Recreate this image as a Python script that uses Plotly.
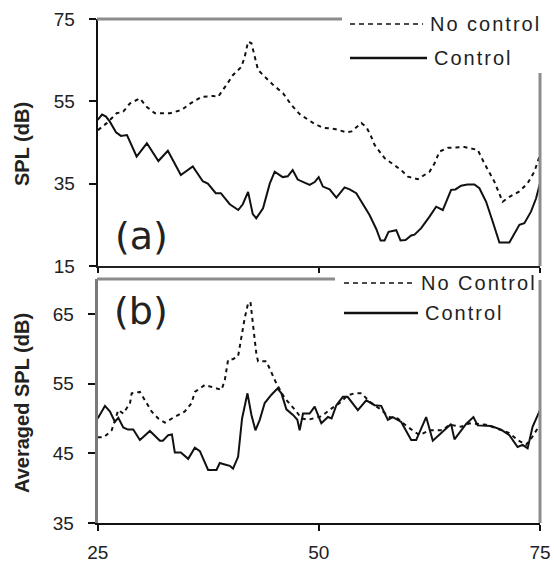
import plotly.graph_objects as go

# ---- (a) SPL versus frequency ----
freq_a_ctrl = [25.0, 25.49, 25.94, 26.39, 27.07, 27.63, 28.31, 29.40, 30.56, 31.86,
               32.93, 34.40, 35.75, 36.88, 37.45, 38.35, 38.92, 39.93, 40.89, 41.40,
               42.00, 42.53, 42.92, 43.69, 44.45, 45.01, 45.91, 46.48, 47.04, 47.61,
               48.96, 49.53, 49.98, 50.46, 51.22, 51.98, 52.91, 53.48, 54.23, 54.80,
               55.73, 56.49, 56.98, 57.43, 57.88, 58.75, 59.23, 59.80, 60.44, 60.81,
               61.57, 62.51, 63.26, 64.01, 64.95, 65.44, 66.08, 66.79, 67.58, 68.15,
               68.91, 69.65, 70.41, 71.54, 72.10, 72.67, 73.23, 73.98, 74.55, 75.0]
spl_a_ctrl = [50.5, 51.8, 51.3, 50.0, 47.5, 46.6, 46.8, 41.6, 44.8, 40.5,
              43.0, 37.1, 39.2, 35.6, 35.0, 32.7, 32.7, 30.0, 28.6, 30.0,
              33.0, 27.6, 26.6, 29.0, 35.0, 37.9, 36.6, 36.8, 38.3, 36.0,
              34.7, 35.4, 36.6, 34.3, 33.6, 31.6, 34.1, 33.6, 32.7, 30.6,
              27.4, 24.0, 21.2, 21.2, 23.3, 23.7, 21.2, 21.3, 22.4, 22.6,
              24.2, 27.0, 29.4, 28.6, 33.5, 33.6, 34.5, 34.8, 34.8, 33.9,
              30.6, 25.8, 20.7, 20.7, 22.9, 25.0, 25.4, 28.2, 31.4, 35.1]

freq_a_noctrl = [25.03, 26.02, 27.14, 27.89, 28.65, 29.77, 30.53, 31.47, 33.16, 34.48,
                 35.42, 36.74, 38.05, 38.61, 39.56, 40.30, 41.25, 41.62, 42.00, 42.38,
                 43.13, 44.07, 44.82, 45.95, 46.90, 47.83, 48.59, 49.53, 50.46, 51.78,
                 53.10, 53.70, 54.80, 55.36, 55.85, 56.30, 57.43, 58.55, 59.31, 60.06,
                 61.19, 62.51, 63.07, 63.64, 64.57, 66.46, 67.96, 68.72, 69.84, 70.78,
                 71.54, 72.67, 73.60, 74.36, 75.0]
spl_a_noctrl = [48.0, 49.7, 52.1, 52.5, 54.5, 55.7, 53.7, 52.1, 52.1, 52.9,
                54.4, 56.1, 56.3, 56.1, 59.0, 61.4, 63.4, 65.8, 69.5, 69.1,
                62.6, 60.7, 59.0, 57.0, 54.1, 51.9, 50.9, 49.5, 48.6, 48.3,
                47.5, 47.7, 49.7, 48.8, 46.8, 44.4, 41.2, 39.5, 38.3, 36.7,
                36.1, 37.9, 39.9, 42.8, 43.7, 43.9, 43.2, 39.9, 35.5, 30.6,
                31.8, 33.1, 35.1, 37.9, 42.0]

# ---- (b) averaged SPL versus frequency ----
freq_b_ctrl = [25.0, 25.82, 26.39, 26.95, 27.33, 27.89, 28.42, 29.02, 29.77, 30.90,
               32.03, 32.37, 32.97, 33.39, 33.72, 34.40, 35.23, 35.98, 36.55, 37.48,
               38.43, 38.80, 39.37, 39.93, 40.30, 40.87, 41.32, 41.93, 42.38, 42.83,
               43.32, 43.88, 44.64, 45.32, 45.77, 46.33, 47.08, 47.57, 47.83, 48.21,
               48.96, 49.53, 50.28, 51.03, 51.44, 51.98, 52.72, 53.25, 54.41, 55.36,
               56.30, 57.05, 57.80, 58.36, 59.31, 60.44, 61.00, 62.13, 62.88, 64.95,
               65.33, 66.65, 67.47, 67.96, 69.47, 70.60, 71.54, 72.47, 73.04, 73.60,
               74.16, 75.0]
spl_b_ctrl = [50.0, 51.8, 51.0, 49.5, 50.1, 48.7, 48.4, 48.4, 46.9, 48.2,
              46.8, 46.8, 47.6, 47.7, 45.1, 45.1, 44.2, 45.8, 45.3, 42.6,
              42.6, 43.6, 43.4, 43.2, 42.8, 44.5, 50.0, 53.6, 50.5, 48.3,
              49.8, 52.2, 53.4, 54.3, 53.6, 51.3, 50.5, 49.8, 48.3, 50.7,
              50.7, 51.7, 49.3, 50.2, 50.0, 51.9, 53.1, 53.1, 51.2, 52.6,
              51.9, 51.8, 49.8, 50.2, 49.5, 46.9, 46.9, 50.2, 46.8, 49.2,
              47.0, 49.2, 50.2, 49.0, 48.9, 48.4, 47.6, 45.9, 46.2, 45.7,
              48.8, 51.2]

freq_b_noctrl = [25.0, 25.71, 26.58, 27.33, 27.89, 28.65, 28.84, 29.77, 30.53, 31.09,
                 31.84, 32.60, 33.53, 34.85, 35.61, 35.98, 37.11, 39.00, 39.37, 39.74,
                 40.27, 40.87, 41.25, 41.62, 42.00, 42.27, 42.56, 42.95, 43.13, 44.07,
                 45.20, 46.14, 47.46, 48.02, 48.77, 49.33, 50.28, 51.41, 52.35, 53.25,
                 54.04, 54.83, 55.73, 56.86, 57.99, 58.89, 60.02, 61.38, 62.51, 63.97,
                 64.76, 66.08, 67.02, 68.91, 70.41, 71.54, 72.47, 73.42, 74.16, 74.84]
spl_b_noctrl = [47.3, 47.3, 48.3, 51.2, 50.7, 52.2, 53.6, 53.8, 52.2, 51.0,
                50.0, 49.4, 50.1, 51.0, 52.2, 53.8, 54.8, 54.1, 55.5, 58.4,
                58.5, 58.9, 61.7, 64.4, 66.5, 66.7, 63.4, 59.1, 58.2, 58.2,
                55.0, 52.9, 51.0, 50.0, 49.8, 50.0, 50.3, 51.4, 52.2, 53.3,
                53.6, 53.6, 52.4, 51.4, 50.2, 50.0, 48.8, 47.6, 48.3, 48.3,
                49.1, 48.8, 49.3, 49.1, 48.4, 47.9, 46.9, 46.2, 47.4, 48.8]

yticks_a = [15, 35, 55, 75]
yticks_b = [35, 45, 55, 65]
xticks = [25, 50, 75]

W, H = 554, 565


def X(px):
    return px / W


def Y(py):
    return 1 - py / H


FONT = "Liberation Sans, Arial, sans-serif"
TXT = "#222222"
DASH = "4px,4px"

fig = go.Figure()

# panel (a)
fig.add_trace(go.Scatter(x=freq_a_noctrl, y=spl_a_noctrl, mode="lines",
                         line=dict(color="#111111", width=2, dash=DASH),
                         xaxis="x2", yaxis="y2", showlegend=False))
fig.add_trace(go.Scatter(x=freq_a_ctrl, y=spl_a_ctrl, mode="lines",
                         line=dict(color="#111111", width=2),
                         xaxis="x2", yaxis="y2", showlegend=False))
# panel (b)
fig.add_trace(go.Scatter(x=freq_b_noctrl, y=spl_b_noctrl, mode="lines",
                         line=dict(color="#111111", width=2, dash=DASH),
                         xaxis="x", yaxis="y", showlegend=False))
fig.add_trace(go.Scatter(x=freq_b_ctrl, y=spl_b_ctrl, mode="lines",
                         line=dict(color="#111111", width=2),
                         xaxis="x", yaxis="y", showlegend=False))

xdom = [X(97.7), X(540)]
tickfont = dict(family=FONT, size=19, color=TXT)

fig.update_layout(
    width=W, height=H,
    margin=dict(l=0, r=0, t=0, b=0, autoexpand=False),
    paper_bgcolor="white", plot_bgcolor="white",
    xaxis=dict(domain=xdom, anchor="y", range=[25, 75], tickvals=xticks, automargin=False,
               showgrid=False, zeroline=False, showline=True, linecolor="#111111",
               linewidth=2, ticks="outside", ticklen=6, tickwidth=1.5,
               tickcolor="#111111", tickfont=tickfont, ticklabelstandoff=5),
    yaxis=dict(domain=[Y(523), Y(279)], anchor="x", range=[35, 70], tickvals=yticks_b,
               automargin=False,
               showgrid=False, zeroline=False, showline=True, linecolor="#7a7a7a",
               linewidth=3, ticks="outside", ticklen=7, tickwidth=1.5,
               tickcolor="#111111", tickfont=tickfont, ticklabelstandoff=10),
    xaxis2=dict(domain=xdom, anchor="y2", range=[25, 75], tickvals=xticks, automargin=False,
                showticklabels=False, showgrid=False, zeroline=False, showline=True,
                linecolor="#222222", linewidth=2, ticks="outside", ticklen=5,
                tickwidth=1.5, tickcolor="#111111"),
    yaxis2=dict(domain=[Y(266), Y(19)], anchor="x2", range=[15, 75], tickvals=yticks_a,
                automargin=False,
                showgrid=False, zeroline=False, showline=True, linecolor="#111111",
                linewidth=2, ticks="outside", ticklen=7, tickwidth=1.5,
                tickcolor="#111111", tickfont=tickfont, ticklabelstandoff=10),
)

shapes = []
# partial gray frame lines (top and right edges)
shapes.append(dict(type="line", xref="paper", yref="paper", x0=X(97), x1=X(342),
                   y0=Y(19), y1=Y(19), line=dict(color="#8c8c8c", width=3)))
shapes.append(dict(type="line", xref="paper", yref="paper", x0=X(540), x1=X(540),
                   y0=Y(73), y1=Y(266), line=dict(color="#8c8c8c", width=3)))
shapes.append(dict(type="line", xref="paper", yref="paper", x0=X(97), x1=X(335),
                   y0=Y(279), y1=Y(279), line=dict(color="#8c8c8c", width=3)))
shapes.append(dict(type="line", xref="paper", yref="paper", x0=X(540), x1=X(540),
                   y0=Y(280), y1=Y(523), line=dict(color="#8c8c8c", width=3)))

# legend keys
legend_rows = [
    (350, 423, 24, True, "No control"),
    (350, 427, 58, False, "Control"),
    (344, 414, 283, True, "No Control"),
    (344, 418, 313, False, "Control"),
]
annotations = []
for x0, x1, yy, dashed, label in legend_rows:
    shapes.append(dict(type="line", xref="paper", yref="paper", x0=X(x0), x1=X(x1),
                       y0=Y(yy), y1=Y(yy),
                       line=dict(color="#111111", width=1.5 if dashed else 2.5,
                                 dash="5px,4px" if dashed else "solid")))
    annotations.append(dict(xref="paper", yref="paper", x=X(x1 + 5), y=Y(yy),
                            xanchor="left", yanchor="middle", showarrow=False,
                            text='<span style="letter-spacing:2px">%s</span>' % label,
                            font=dict(family=FONT, size=20, color=TXT)))

# axis titles
annotations.append(dict(xref="paper", yref="paper", x=X(22), y=Y(144), textangle=-90,
                        showarrow=False, xanchor="center", yanchor="middle",
                        text="<b>SPL (dB)</b>",
                        font=dict(family=FONT, size=20, color=TXT)))
annotations.append(dict(xref="paper", yref="paper", x=X(22), y=Y(403), textangle=-90,
                        showarrow=False, xanchor="center", yanchor="middle",
                        text="<b>Averaged SPL (dB)</b>",
                        font=dict(family=FONT, size=20, color=TXT)))

# panel tags
annotations.append(dict(xref="paper", yref="paper", x=X(141), y=Y(236), showarrow=False,
                        xanchor="center", yanchor="middle", text="(a)",
                        font=dict(family="DejaVu Sans, sans-serif", size=38, color=TXT)))
annotations.append(dict(xref="paper", yref="paper", x=X(141), y=Y(311), showarrow=False,
                        xanchor="center", yanchor="middle", text="(b)",
                        font=dict(family="DejaVu Sans, sans-serif", size=38, color=TXT)))

fig.update_layout(shapes=shapes, annotations=annotations)

fig.write_html("out.html")
